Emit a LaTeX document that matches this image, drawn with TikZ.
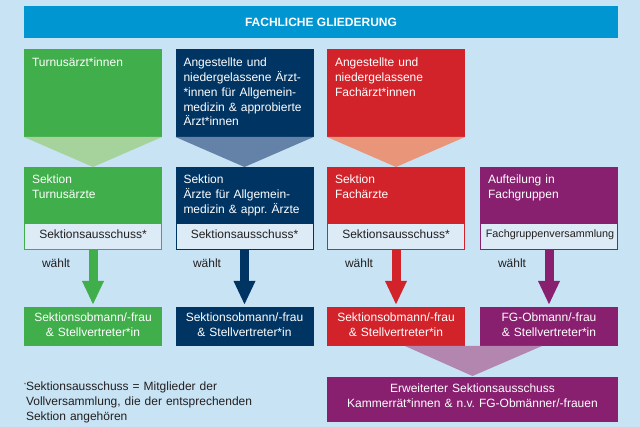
\documentclass[tikz,border=0pt]{standalone}
\usepackage{fontspec}
\setmainfont{Liberation Sans}
\usetikzlibrary{arrows.meta,calc}
\definecolor{bg}{HTML}{C8E3F4}
\definecolor{titleblue}{HTML}{0096D2}
\definecolor{cgreen}{HTML}{40AE4A}
\definecolor{lgreen}{HTML}{A6D29B}
\definecolor{cnavy}{HTML}{003563}
\definecolor{lnavy}{HTML}{6481A8}
\definecolor{cred}{HTML}{D2232B}
\definecolor{lred}{HTML}{E8957A}
\definecolor{cpurple}{HTML}{88206F}
\definecolor{lpurple}{HTML}{B286AE}
\definecolor{subfill}{HTML}{DCEBF6}
\definecolor{ink}{HTML}{231F20}
\frenchspacing
\begin{document}
\begin{tikzpicture}[x=1pt,y=-1pt,
  font=\fontsize{12}{14.7}\selectfont,
  box/.style={draw=none, anchor=north west, minimum width=138pt, inner sep=0pt, outer sep=0pt},
  subbox/.style={draw=none, anchor=north west, minimum width=136pt, minimum height=25pt, inner sep=0pt, outer sep=0pt, fill=subfill},
  wtxt/.style={text=white, inner sep=0pt, outer sep=0pt},
  ltxt/.style={wtxt, anchor=base west, text width=128pt, align=left},
  ctxt/.style={wtxt, anchor=base, text width=280pt, align=center},
  dtxt/.style={text=ink, inner sep=0pt, outer sep=0pt},
  arr/.style={line width=9pt, -{Triangle[length=24pt,width=20pt]}},
]
\fill[bg] (0,0) rectangle (640,427);
\useasboundingbox (0,0) rectangle (640,427);

% title
\node[box, fill=titleblue, minimum width=594pt, minimum height=32pt, text=white, font=\fontsize{12}{14}\selectfont\bfseries] (title) at (24,6) {FACHLICHE GLIEDERUNG};

% top row
\node[box, fill=cgreen, minimum height=88pt] (t1) at (24,49) {};
\node[box, fill=cnavy, minimum height=88pt] (t2) at (175.5,49) {};
\node[box, fill=cred, minimum height=88pt] (t3) at (327,49) {};
\node[ltxt] (t1x) at (32,67) {Turnusärzt*innen};
\node[ltxt] (t2x) at (183.5,67) {Angestellte und\\niedergelassene Ärzt-\\{}*innen für Allgemein-\\medizin \& approbierte\\Ärzt*innen};
\node[ltxt] (t3x) at (335,67) {Angestellte und\\niedergelassene\\Fachärzt*innen};

% section boxes
\node[box, fill=cgreen, minimum height=83pt] (s1) at (24,167) {};
\node[box, fill=cnavy, minimum height=83pt] (s2) at (175.5,167) {};
\node[box, fill=cred, minimum height=83pt] (s3) at (327,167) {};
\node[box, fill=cpurple, minimum height=83pt] (s4) at (480,167) {};

% funnels
\fill[lgreen] (t1.south west) -- (t1.south east) -- (s1.north) -- cycle;
\fill[lnavy] (t2.south west) -- (t2.south east) -- (s2.north) -- cycle;
\fill[lred] (t3.south west) -- (t3.south east) -- (s3.north) -- cycle;

\node[ltxt] (s1x) at (32,184) {Sektion\\Turnusärzte};
\node[ltxt] (s2x) at (183.5,184) {Sektion\\Ärzte für Allgemein-\\medizin \& appr. Ärzte};
\node[ltxt] (s3x) at (335,184) {Sektion\\Fachärzte};
\node[ltxt] (s4x) at (488,184) {Aufteilung in\\Fachgruppen};

% sub boxes
\node[subbox] (a1) at (25,224) {};
\node[subbox] (a2) at (176.5,224) {};
\node[subbox] (a3) at (328,224) {};
\node[subbox] (a4) at (481,224) {};
\node[dtxt, anchor=base] (a1x) at (93,239) {Sektionsausschuss*};
\node[dtxt, anchor=base] (a2x) at (244.5,239) {Sektionsausschuss*};
\node[dtxt, anchor=base] (a3x) at (396,239) {Sektionsausschuss*};
\node[dtxt, anchor=base, font=\fontsize{10.8}{13}\selectfont] (a4x) at (550,238) {Fachgruppenversammlung};

% bottom boxes
\node[box, fill=cgreen, minimum height=39pt] (b1) at (24,307) {};
\node[box, fill=cnavy, minimum height=39pt] (b2) at (175.5,307) {};
\node[box, fill=cred, minimum height=39pt] (b3) at (327,307) {};
\node[box, fill=cpurple, minimum height=39pt] (b4) at (480,307) {};
\node[ctxt] (b1x) at (93,322) {Sektionsobmann/-frau\\\& Stellvertreter*in};
\node[ctxt] (b2x) at (244.5,322) {Sektionsobmann/-frau\\\& Stellvertreter*in};
\node[ctxt] (b3x) at (396,322) {Sektionsobmann/-frau\\\& Stellvertreter*in};
\node[ctxt] (b4x) at (549,322) {FG-Obmann/-frau\\\& Stellvertreter*in};

% arrows
\draw[arr, cgreen] (s1.south) -- ($(b1.north)+(0,-2)$);
\draw[arr, cnavy] (s2.south) -- ($(b2.north)+(0,-2)$);
\draw[arr, cred] (s3.south) -- ($(b3.north)+(0,-2)$);
\draw[arr, cpurple] (s4.south) -- ($(b4.north)+(0,-2)$);
\node[dtxt, anchor=base west] (w1) at (42,268) {wählt};
\node[dtxt, anchor=base west] (w2) at (193,268) {wählt};
\node[dtxt, anchor=base west] (w3) at (345,268) {wählt};
\node[dtxt, anchor=base west] (w4) at (498,268) {wählt};

% extended committee
\node[box, fill=cpurple, minimum width=291pt, minimum height=45pt] (e) at (327,377) {};
\fill[lpurple] ($(b3.south east)+(-60,0)$) -- ($(b4.south west)+(62,0)$) -- ($(e.north)+(0,-1)$) -- cycle;
\node[ctxt] (ex) at (472.5,393) {Erweiterter Sektionsausschuss\\Kammerrät*innen \& n.v. FG-Obmänner/-frauen};

% footnote
\node[dtxt, anchor=base west, text width=240pt, align=left] (fn) at (26,391) {\llap{\raisebox{4pt}{\fontsize{5}{5}\selectfont*}}Sektionsausschuss = Mitglieder der\\Vollversammlung, die der entsprechenden\\Sektion angehören};
\end{tikzpicture}
\end{document}
